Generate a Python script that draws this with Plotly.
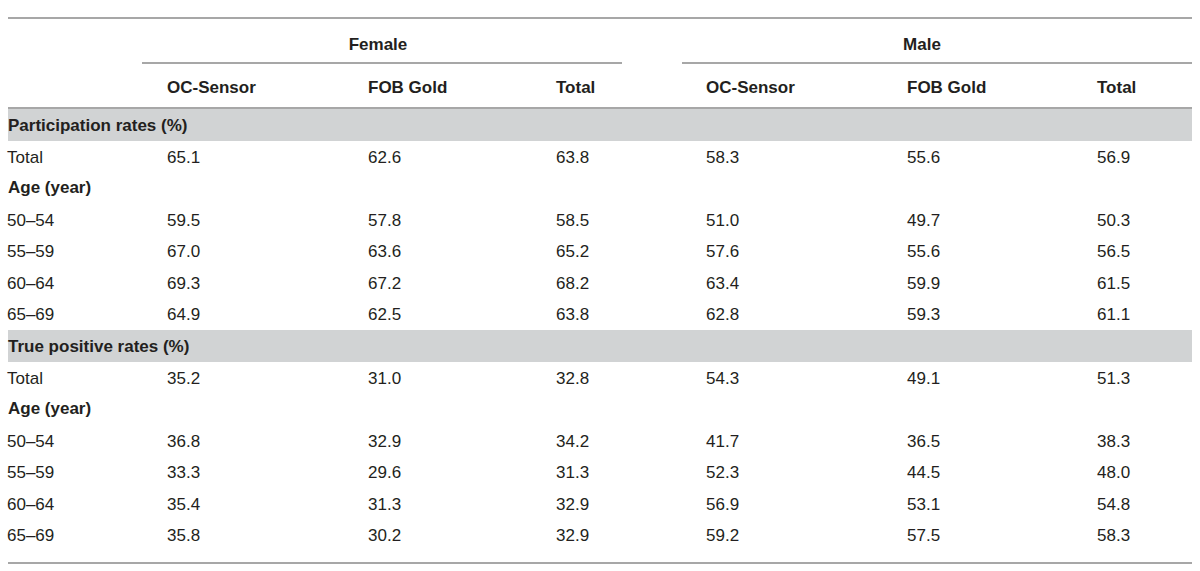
import plotly.graph_objects as go

# table contents
groups = ["Female", "Male"]
methods = ["OC-Sensor", "FOB Gold", "Total"]
sections = ["Participation rates (%)", "True positive rates (%)"]
age_groups = ["50–54", "55–59", "60–64", "65–69"]

# participation rates: [Total row] + age rows
part_f_oc = [65.1, 59.5, 67.0, 69.3, 64.9]
part_f_fob = [62.6, 57.8, 63.6, 67.2, 62.5]
part_f_tot = [63.8, 58.5, 65.2, 68.2, 63.8]
part_m_oc = [58.3, 51.0, 57.6, 63.4, 62.8]
part_m_fob = [55.6, 49.7, 55.6, 59.9, 59.3]
part_m_tot = [56.9, 50.3, 56.5, 61.5, 61.1]

# true positive rates
tp_f_oc = [35.2, 36.8, 33.3, 35.4, 35.8]
tp_f_fob = [31.0, 32.9, 29.6, 31.3, 30.2]
tp_f_tot = [32.8, 34.2, 31.3, 32.9, 32.9]
tp_m_oc = [54.3, 41.7, 52.3, 56.9, 59.2]
tp_m_fob = [49.1, 36.5, 44.5, 53.1, 57.5]
tp_m_tot = [51.3, 38.3, 48.0, 54.8, 58.3]

# layout (pixel space of the page)
W, H = 1200, 571
LEFT, RIGHT = 8, 1192
col_x = [167, 368, 556, 706, 907, 1097]
group_x = [378, 922]
sec_y = [125, 346]        # shaded section rows
total_y = [157, 378]
agehead_y = [187, 408]
age_y = [[220, 251, 283, 314], [441, 472, 504, 535]]
DY = 2                    # text baseline nudge

FONT = "Liberation Sans, Arial, sans-serif"
TXT = "#231f20"
LINE = "#8a8a8a"
BAND = "#d1d3d4"

fig = go.Figure()

def text_trace(xs, ys, texts, bold=False, pos="middle right"):
    if bold:
        texts = ["<b>%s</b>" % t for t in texts]
    fig.add_trace(go.Scatter(
        x=xs, y=[y + DY for y in ys], text=texts, mode="text", textposition=pos,
        textfont=dict(family=FONT, size=17, color=TXT),
        hoverinfo="skip", showlegend=False, cliponaxis=False))

# group headers
text_trace(group_x, [44, 44], groups, bold=True, pos="middle center")
# method headers
text_trace(col_x, [87] * 6, methods * 2, bold=True)

blocks = [
    [part_f_oc, part_f_fob, part_f_tot, part_m_oc, part_m_fob, part_m_tot],
    [tp_f_oc, tp_f_fob, tp_f_tot, tp_m_oc, tp_m_fob, tp_m_tot],
]

for s, cols in enumerate(blocks):
    rows_y = [total_y[s]] + age_y[s]
    text_trace([LEFT, LEFT], [sec_y[s], agehead_y[s]],
               [sections[s], "Age (year)"], bold=True)
    text_trace([LEFT - 1] * 5, rows_y, ["Total"] + age_groups)
    for cx, vals in zip(col_x, cols):
        text_trace([cx] * len(vals), rows_y, ["%.1f" % v for v in vals])

shapes = []
for y0 in sec_y:
    shapes.append(dict(type="rect", x0=LEFT, x1=RIGHT, y0=y0 - 16, y1=y0 + 16,
                       fillcolor=BAND, line=dict(width=0), layer="below"))
for y, x0, x1 in [(18, LEFT, RIGHT), (63, 142, 622), (63, 682, RIGHT),
                  (108, LEFT, RIGHT), (563, LEFT, RIGHT)]:
    shapes.append(dict(type="line", x0=x0, x1=x1, y0=y, y1=y,
                       line=dict(color=LINE, width=1.5)))

fig.update_layout(
    width=W, height=H,
    margin=dict(l=0, r=0, t=0, b=0),
    paper_bgcolor="white", plot_bgcolor="white",
    xaxis=dict(range=[0, W], visible=False, fixedrange=True),
    yaxis=dict(range=[H, 0], visible=False, fixedrange=True),
    shapes=shapes,
)

fig.write_html("out.html", config={"displayModeBar": False},
               post_script="document.body.style.margin='0';document.body.style.overflow='hidden';")
